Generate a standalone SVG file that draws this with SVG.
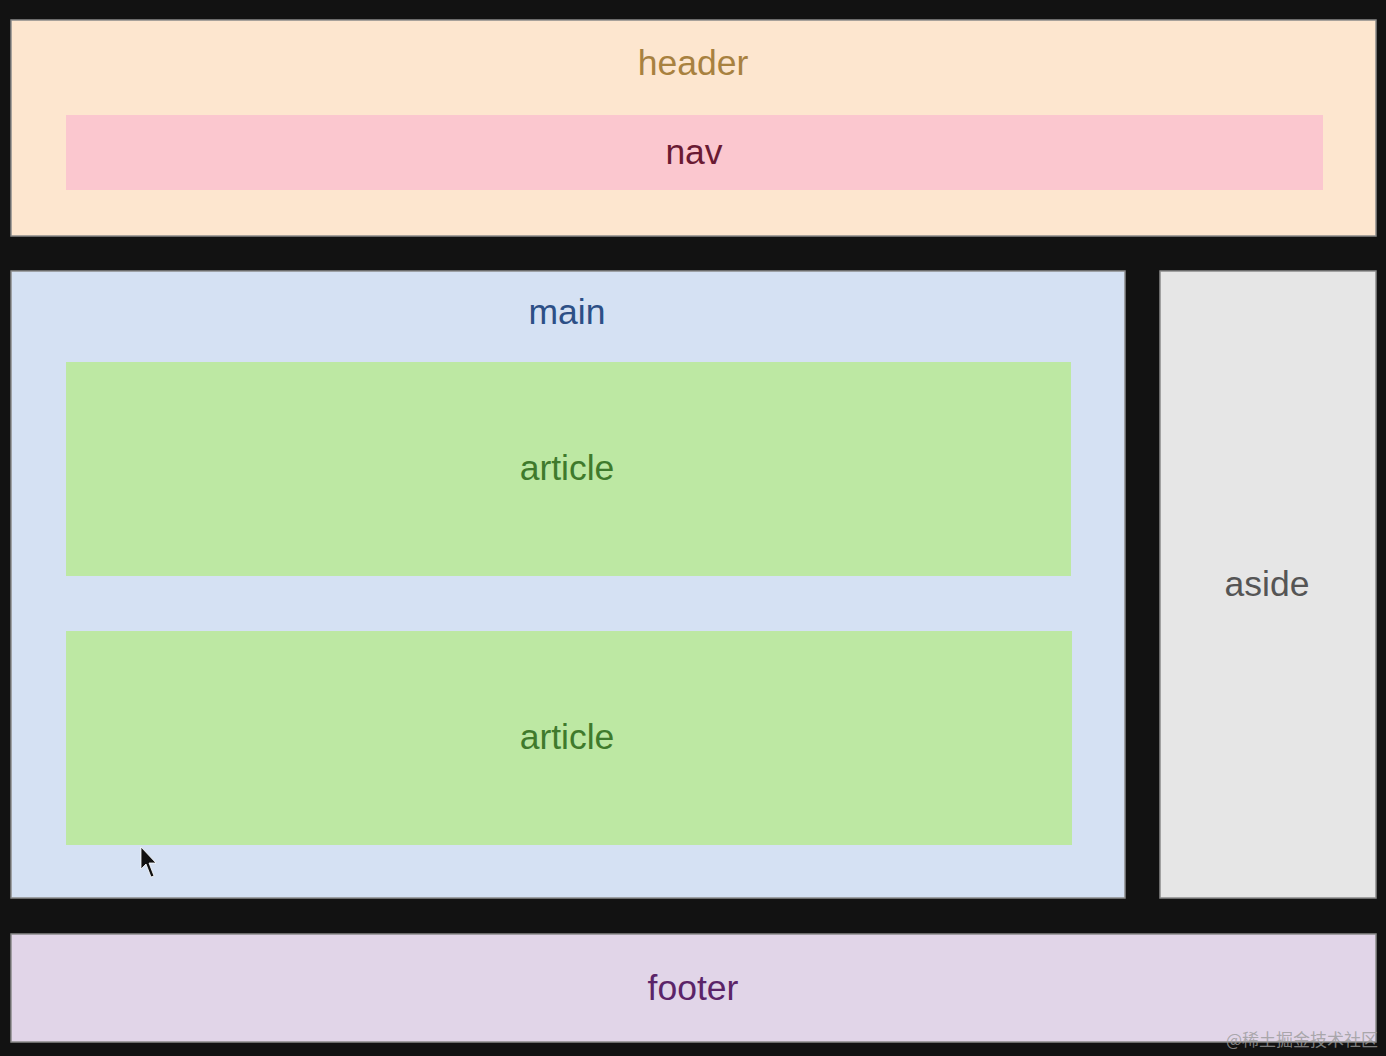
<svg xmlns="http://www.w3.org/2000/svg" width="1386" height="1056" viewBox="0 0 1386 1056">
<style>
.box{stroke:#8a8a8a;stroke-width:1.5}
.lbl{font-family:"Liberation Sans",Arial,Helvetica,sans-serif;font-size:35.5px;text-anchor:middle}
</style>
<rect x="0" y="0" width="1386" height="1056" fill="#121212"/>
<g id="header">
<rect class="box" x="11" y="20" width="1365" height="216" fill="#fde6cf"/>
<text class="lbl" x="693" y="75" fill="#a8813f">header</text>
</g>
<g id="nav">
<rect x="66" y="115" width="1257" height="75" fill="#fbc7cf"/>
<text class="lbl" x="694" y="164" fill="#6a1a33">nav</text>
</g>
<g id="main">
<rect class="box" x="11" y="271" width="1114" height="627" fill="#d5e1f3"/>
<text class="lbl" x="567" y="324" fill="#2c4f86">main</text>
</g>
<g id="article1">
<rect x="66" y="362" width="1005" height="214" fill="#bde8a3"/>
<text class="lbl" x="567" y="480" fill="#3f7a2c">article</text>
</g>
<g id="article2">
<rect x="66" y="631" width="1006" height="214" fill="#bde8a3"/>
<text class="lbl" x="567" y="749" fill="#3f7a2c">article</text>
</g>
<g id="aside">
<rect class="box" x="1160" y="271" width="216" height="627" fill="#e6e6e6"/>
<text class="lbl" x="1267" y="596" fill="#555555">aside</text>
</g>
<g id="footer">
<rect class="box" x="11" y="934" width="1365" height="108" fill="#e1d5e8"/>
<text class="lbl" x="693" y="1000" fill="#5b2468">footer</text>
</g>
<g id="connectors"/>
<path d="M141 847 L141 869 L146 864 L151 877 L154 876 L149 863 L156 863 Z" fill="#111" stroke="#fff" stroke-width="0.8"/>
<text x="1378" y="1046" font-family="'Noto Sans CJK SC',sans-serif" font-size="17" fill="#9a9a9a" fill-opacity="0.8" text-anchor="end">@稀土掘金技术社区</text>
</svg>
